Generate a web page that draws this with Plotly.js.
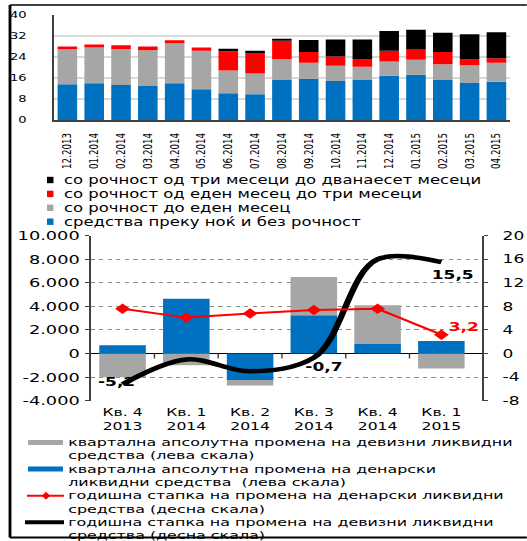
<!DOCTYPE html>
<html><head><meta charset="utf-8">
<script src="https://cdn.plot.ly/plotly-3.0.1.min.js"></script>
<style>
html,body{margin:0;padding:0;background:#fff;overflow:hidden;width:527px;height:541px}
#wrap{position:absolute;left:0;top:0;width:527px;height:541px;overflow:hidden;background:#fff}
#chart{position:absolute;left:0;top:0;transform-origin:0 0}
</style></head><body>
<div id="wrap"><div id="chart"></div></div>
<script>
// ---------- top chart data (billions of denars) ----------
const months = ['12.2013','01.2014','02.2014','03.2014','04.2014','05.2014','06.2014','07.2014','08.2014','09.2014','10.2014','11.2014','12.2014','01.2015','02.2015','03.2015','04.2015'];
const overnightNoMaturity = [13.6,14.0,13.3,12.9,14.0,11.7,10.2,9.8,15.2,15.7,14.8,15.2,16.8,17.2,15.2,14.1,14.5];
const upToOneMonth        = [13.3,13.5,13.7,13.6,15.2,14.6,8.6,7.9,7.9,6.0,5.8,5.0,5.4,5.7,6.0,6.7,7.2];
const oneToThreeMonths    = [1.0,1.2,1.4,1.4,1.1,1.2,7.3,7.6,7.0,4.1,3.5,2.8,4.1,4.1,4.6,2.2,1.8];
const threeToTwelveMonths = [null,null,null,null,null,null,1.0,1.0,0.8,4.6,6.5,7.6,7.5,7.3,7.3,9.6,9.8];
const topTickVals = [0,8,16,24,32,40];
const topLegendLabels = ['со рочност од три месеци до дванаесет месеци','со рочност од еден месец до три месеци','со рочност до еден месец','средства преку ноќ и без рочност'];

// ---------- bottom chart data ----------
const quarters = ['Кв. 4<br>2013','Кв. 1<br>2014','Кв. 2<br>2014','Кв. 3<br>2014','Кв. 4<br>2014','Кв. 1<br>2015'];
const foreignQuarterChange = [-2000,-1000,-450,3250,3280,-1270];
const denarQuarterChange   = [700,4650,-2250,3250,820,1070];
const denarAnnualRate      = [7.6,6.1,6.8,7.4,7.6,3.2];
const foreignAnnualRate    = [-5.2,-1.0,-3.0,-0.7,16.0,15.5];
const leftTickVals  = [-4000,-2000,0,2000,4000,6000,8000,10000];
const leftTickText  = ['-4.000','-2.000','0','2.000','4.000','6.000','8.000','10.000'];
const rightTickVals = [-8,-4,0,4,8,12,16,20];
const rightTickText = ['-8','-4','0','4','8','12','16','20'];
const bottomLegendLabels = ['квартална апсолутна промена на девизни ликвидни<br>средства (лева скала)','квартална апсолутна промена на денарски<br>ликвидни средства  (лева скала)','годишна стапка на промена на денарски ликвидни<br>средства (десна скала)','годишна стапка на промена на девизни ликвидни<br>средства (десна скала)'];
const foreignLabelIdx = [0,3,5];
const denarLabelIdx = [5];

// ---------- geometry ----------
const S = 1.42;            // horizontal stretch of the original picture
const W = 527 / S, H = 541;
const px = v => v / 527;   // final x pixel -> paper fraction
const py = v => 1 - v / 541;
const FONT = 'DejaVu Sans, Verdana, sans-serif';
const BLUE = '#0070C0', GRAY = '#A6A6A6', RED = '#FF0000', BLACK = '#000000';
const fmt = v => String(v).replace('.', ',');

const data = [
  {type:'bar', name:topLegendLabels[3], x:months, y:overnightNoMaturity, marker:{color:BLUE}, xaxis:'x', yaxis:'y', showlegend:false},
  {type:'bar', name:topLegendLabels[2], x:months, y:upToOneMonth, marker:{color:GRAY}, xaxis:'x', yaxis:'y', showlegend:false},
  {type:'bar', name:topLegendLabels[1], x:months, y:oneToThreeMonths, marker:{color:RED}, xaxis:'x', yaxis:'y', showlegend:false},
  {type:'bar', name:topLegendLabels[0], x:months, y:threeToTwelveMonths, marker:{color:BLACK}, xaxis:'x', yaxis:'y', showlegend:false},
  {type:'bar', name:bottomLegendLabels[1], x:quarters, y:denarQuarterChange, marker:{color:BLUE}, xaxis:'x2', yaxis:'y3', showlegend:false},
  {type:'bar', name:bottomLegendLabels[0], x:quarters, y:foreignQuarterChange, marker:{color:GRAY}, xaxis:'x2', yaxis:'y3', showlegend:false},
  {type:'scatter', mode:'lines', name:bottomLegendLabels[3], x:quarters, y:foreignAnnualRate, line:{color:BLACK, width:4.5, shape:'spline', smoothing:1}, xaxis:'x2', yaxis:'y4', showlegend:false},
  {type:'scatter', mode:'lines+markers', name:bottomLegendLabels[2], x:quarters, y:denarAnnualRate, line:{color:RED, width:2}, marker:{symbol:'diamond', size:8, color:RED}, xaxis:'x2', yaxis:'y4', showlegend:false}
];

const annotations = [];
const shapes = [];
// frame
shapes.push({type:'line', xref:'paper', yref:'paper', x0:px(10), x1:px(10), y0:py(5), y1:py(537.5), line:{color:'#000', width:2}});
shapes.push({type:'line', xref:'paper', yref:'paper', x0:px(10), x1:1.01, y0:py(5), y1:py(5), line:{color:'#000', width:1.6}});
shapes.push({type:'line', xref:'paper', yref:'paper', x0:px(10), x1:1.01, y0:py(537.5), y1:py(537.5), line:{color:'#000', width:2}});
// category boundary ticks on the zero line of the lower chart
for (let i = 0; i < quarters.length - 1; i++) {
  shapes.push({type:'line', xref:'x2', yref:'y3', x0:i+0.5, x1:i+0.5, ysizemode:'pixel', yanchor:0, y0:0, y1:-5, line:{color:'#404040', width:1}});
}
// top legend
const topLegColors = [BLACK, RED, GRAY, BLUE];
topLegendLabels.forEach((t, i) => {
  const yc = 180 + i * 13.9;
  shapes.push({type:'rect', xref:'paper', yref:'paper', x0:px(47), x1:px(53.5), y0:py(yc+3.2), y1:py(yc-3.2), fillcolor:topLegColors[i], line:{width:0}});
  annotations.push({xref:'paper', yref:'paper', x:px(63), y:py(yc), xanchor:'left', yanchor:'middle', text:t, showarrow:false, borderpad:0, font:{size:11.6, family:FONT, color:'#000'}});
});
// bottom legend (each entry wraps over two lines)
const botLegColors = [GRAY, BLUE, RED, BLACK];
const LINE = 13.3, FIRST = 442.5;
bottomLegendLabels.forEach((t, i) => {
  const yc = FIRST + i * 2 * LINE;
  if (i < 2) {
    shapes.push({type:'rect', xref:'paper', yref:'paper', x0:px(28), x1:px(63), y0:py(yc+2.5), y1:py(yc-2.5), fillcolor:botLegColors[i], line:{width:0}});
  } else if (i === 2) {
    shapes.push({type:'line', xref:'paper', yref:'paper', x0:px(27), x1:px(64), y0:py(yc), y1:py(yc), line:{color:RED, width:2}});
    const cx = px(46), dx = px(3.2), dy = 3.2 / 541;
    shapes.push({type:'path', xref:'paper', yref:'paper', path:`M${cx-dx},${py(yc)} L${cx},${py(yc)+dy} L${cx+dx},${py(yc)} L${cx},${py(yc)-dy} Z`, fillcolor:RED, line:{color:RED, width:1}});
  } else {
    shapes.push({type:'line', xref:'paper', yref:'paper', x0:px(25), x1:px(64), y0:py(yc), y1:py(yc), line:{color:BLACK, width:4}});
  }
  t.split('<br>').forEach((ln, k) => {
    annotations.push({xref:'paper', yref:'paper', x:px(67), y:py(yc + k * LINE), xanchor:'left', yanchor:'middle', align:'left', text:ln, showarrow:false, borderpad:0, font:{size:11.2, family:FONT, color:'#000'}});
  });
});
// data labels
const foreignShift = {0:[-4.5, 2], 3:[6.5, -9.5], 5:[8.5, -13]};
foreignLabelIdx.forEach(i => {
  annotations.push({xref:'x2', yref:'y4', x:i, y:foreignAnnualRate[i], text:'<b>'+fmt(foreignAnnualRate[i])+'</b>', showarrow:false, xshift:foreignShift[i][0], yshift:foreignShift[i][1], font:{size:12, family:FONT, color:BLACK}});
});
denarLabelIdx.forEach(i => {
  annotations.push({xref:'x2', yref:'y4', x:i, y:denarAnnualRate[i], text:'<b>'+fmt(denarAnnualRate[i])+'</b>', showarrow:false, xshift:16, yshift:7.5, font:{size:12, family:FONT, color:RED}});
});

const layout = {
  width:W, height:H,
  margin:{l:0, r:0, t:0, b:0, pad:0, autoexpand:false},
  paper_bgcolor:'#fff', plot_bgcolor:'#fff',
  font:{family:FONT, size:11, color:'#000'},
  barmode:'relative', bargap:0.27,
  showlegend:false,
  xaxis:{domain:[px(54), px(510)], anchor:'y', type:'category', tickangle:-90, tickfont:{size:8.7}, showline:true, linecolor:'#404040', linewidth:1.5, showgrid:false, zeroline:false, ticks:'', ticklabelstandoff:8},
  yaxis:{domain:[py(120), py(14.7)], anchor:'x', range:[0,40], tickvals:topTickVals, ticktext:topTickVals.map(String), showgrid:true, gridcolor:'#d9d9d9', gridwidth:1.5, showline:true, linecolor:'#404040', linewidth:1.5, zeroline:false, ticks:'', ticklabelstandoff:16, tickfont:{size:9.2}},
  xaxis2:{domain:[px(90.7), px(482)], anchor:'y3', type:'category', showline:false, showgrid:false, zeroline:false, ticks:'', ticklabelstandoff:3, tickfont:{size:11}},
  yaxis3:{domain:[py(400.7), py(235.7)], anchor:'x2', range:[-4000,10000], tickvals:leftTickVals, ticktext:leftTickText, showgrid:true, gridcolor:'#8c8c8c', griddash:'dot', gridwidth:1, zeroline:true, zerolinecolor:'#000', zerolinewidth:1.2, showline:true, linecolor:'#404040', linewidth:1.2, ticks:'outside', ticklen:3, tickcolor:'#404040', ticklabelstandoff:1, tickfont:{size:12.5}},
  yaxis4:{overlaying:'y3', anchor:'x2', side:'right', range:[-8,20], tickvals:rightTickVals, ticktext:rightTickText, showgrid:false, zeroline:false, showline:true, linecolor:'#404040', linewidth:1.2, ticks:'outside', ticklen:3, tickcolor:'#404040', ticklabelstandoff:8, tickfont:{size:12}},
  shapes:shapes,
  annotations:annotations
};

const el = document.getElementById('chart');
el.style.width = W + 'px';
el.style.height = H + 'px';
el.style.transform = 'scaleX(' + S + ')';
Plotly.newPlot(el, data, layout, {staticPlot:true, displayModeBar:false});
</script>
</body></html>
